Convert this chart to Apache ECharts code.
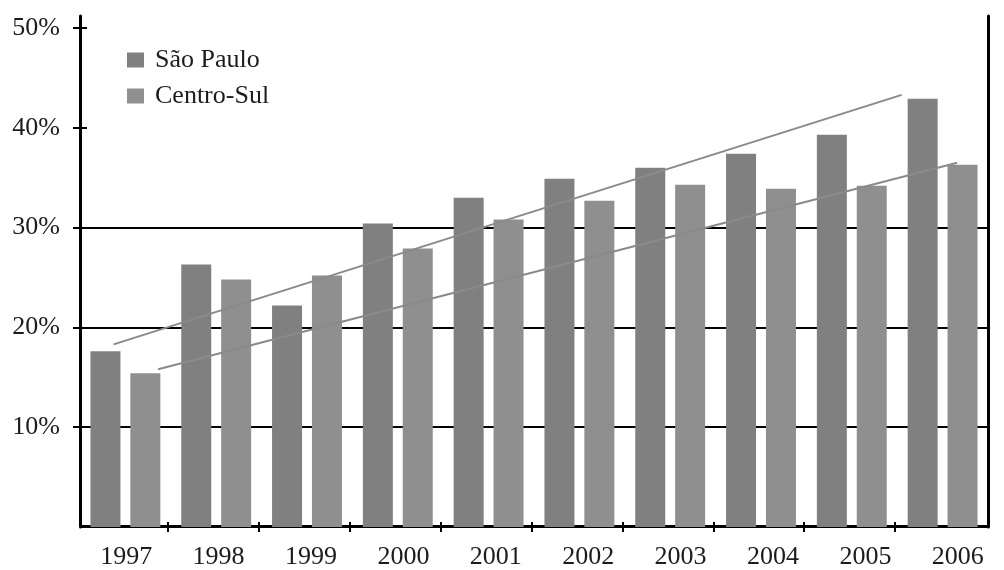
<!DOCTYPE html>
<html>
<head>
<meta charset="utf-8">
<script src="https://cdn.jsdelivr.net/npm/echarts@6/dist/echarts.min.js"></script>
<style>
  html, body { margin: 0; padding: 0; background: #fff; }
  #chart { width: 1004px; height: 570px; }
</style>
</head>
<body>
<div id="chart"></div>
<script>
// Years on the category axis
const years = ['1997', '1998', '1999', '2000', '2001', '2002', '2003', '2004', '2005', '2006'];

// Share (%) per year
const saoPaulo  = [17.6, 26.3, 22.2, 30.4, 33.0, 34.9, 36.0, 37.4, 39.3, 42.9];
const centroSul = [15.4, 24.8, 25.2, 27.9, 30.8, 32.7, 34.3, 33.9, 34.2, 36.3];

// Trend line end points: [year position, %]
const saoPauloTrend  = [[1996.87, 18.3], [2005.55, 43.3]];
const centroSulTrend = [[1997.36, 15.8], [2006.16, 36.5]];

// Value-axis ticks (%)
const yTickMin = 0, yTickMax = 50, yTickStep = 10;
const gridLineMax = 30;   // horizontal rules run up to 30%

const FONT = 'Liberation Serif';
const INK = '#1c1c1c';
const SP_COLOR = '#808080';
const CS_COLOR = '#8f8f8f';
const TREND_COLOR = '#8a8a8a';

const chart = echarts.init(document.getElementById('chart'), null, { renderer: 'canvas' });

const hiddenValue = (gridIndex, extra) => Object.assign({
  type: 'value', gridIndex: gridIndex, show: false, min: 0, max: 1
}, extra || {});

const PX_PER_PCT = 499 / 50;
const plotBottom = 43;

chart.setOption({
  animation: false,
  backgroundColor: '#fff',
  textStyle: { fontFamily: FONT },
  grid: [
    // 0: data area
    { left: 80, right: 16, top: 28, bottom: plotBottom },
    // 1: frame (vertical lines run a little above the top tick)
    { left: 80, right: 16, top: 16, bottom: plotBottom },
    // 2: horizontal rules from 0 to 30%
    { left: 80, right: 16, top: 527 - gridLineMax * PX_PER_PCT, bottom: plotBottom },
    // 3: crossing ticks on the value axis, 10% .. 50%
    { left: 80, right: 16, top: 28, bottom: 570 - (527 - 10 * PX_PER_PCT) },
    // 4: crossing ticks between the year groups
    { left: 168, right: 109, top: 28, bottom: plotBottom },
    // 5: year labels
    { left: 80, width: 939, top: 28, bottom: plotBottom }
  ],
  legend: {
    orient: 'vertical',
    left: 122,
    top: 42,
    itemWidth: 17,
    itemHeight: 15,
    itemGap: 10,
    icon: 'rect',
    data: ['São Paulo', 'Centro-Sul'],
    textStyle: { fontFamily: FONT, fontSize: 26, color: INK, padding: [0, 0, 0, 6] }
  },
  xAxis: [
    { // 0
      type: 'category', gridIndex: 0, data: years, boundaryGap: true,
      offset: -1,
      axisLine: { show: true, onZero: false, lineStyle: { color: '#000', width: 2 } },
      axisTick: { show: false },
      axisLabel: { show: false },
      splitLine: { show: false }
    },
    hiddenValue(1),                       // 1
    hiddenValue(2),                       // 2
    hiddenValue(3),                       // 3
    { // 4: ticks below the baseline
      type: 'value', gridIndex: 4, min: 1, max: 9, interval: 1,
      axisLine: { show: false },
      axisTick: { show: true, length: 5, lineStyle: { color: '#000', width: 2 } },
      axisLabel: { show: false },
      splitLine: { show: false }
    },
    { // 5: ticks above the baseline
      type: 'value', gridIndex: 4, min: 1, max: 9, interval: 1, position: 'bottom',
      axisLine: { show: false, onZero: false },
      axisTick: { show: true, inside: true, length: 5, lineStyle: { color: '#000', width: 2 } },
      axisLabel: { show: false },
      splitLine: { show: false }
    },
    { // 6: year labels
      type: 'category', gridIndex: 5, data: years, boundaryGap: true,
      axisLine: { show: false },
      axisTick: { show: false },
      axisLabel: { show: true, margin: 17, fontFamily: FONT, fontSize: 26, color: INK, interval: 0 },
      splitLine: { show: false }
    },
    // 7: year scale for the trend lines
    { type: 'value', gridIndex: 0, show: false, min: 1996.5, max: 2006.5 }
  ],
  yAxis: [
    { // 0: data scale with % labels (no label at the origin)
      type: 'value', gridIndex: 0, min: yTickMin, max: yTickMax, interval: yTickStep,
      axisLine: { show: false },
      axisTick: { show: false },
      axisLabel: {
        show: true, margin: 20, fontFamily: FONT, fontSize: 26, color: INK,
        formatter: (v) => (v === 0 ? '' : v + '%')
      },
      splitLine: { show: false }
    },
    { // 1: left frame line
      type: 'value', gridIndex: 1, min: 0, max: 1, position: 'left',
      axisLine: { show: true, lineStyle: { color: '#000', width: 3 } },
      axisTick: { show: false }, axisLabel: { show: false }, splitLine: { show: false }
    },
    { // 2: right frame line
      type: 'value', gridIndex: 1, min: 0, max: 1, position: 'right',
      axisLine: { show: true, lineStyle: { color: '#000', width: 3 } },
      axisTick: { show: false }, axisLabel: { show: false }, splitLine: { show: false }
    },
    { // 3: horizontal rules
      type: 'value', gridIndex: 2, min: 0, max: gridLineMax, interval: yTickStep,
      axisLine: { show: false }, axisTick: { show: false }, axisLabel: { show: false },
      splitLine: { show: true, lineStyle: { color: '#000', width: 2 } }
    },
    { // 4: ticks left of the axis
      type: 'value', gridIndex: 3, min: 10, max: yTickMax, interval: yTickStep,
      axisLine: { show: false },
      axisTick: { show: true, length: 7, lineStyle: { color: '#000', width: 2 } },
      axisLabel: { show: false }, splitLine: { show: false }
    },
    { // 5: ticks right of the axis
      type: 'value', gridIndex: 3, min: 10, max: yTickMax, interval: yTickStep, position: 'left',
      axisLine: { show: false, onZero: false },
      axisTick: { show: true, inside: true, length: 7, lineStyle: { color: '#000', width: 2 } },
      axisLabel: { show: false }, splitLine: { show: false }
    },
    hiddenValue(4),   // 6
    hiddenValue(5)    // 7
  ],
  series: [
    {
      name: 'São Paulo', type: 'bar', xAxisIndex: 0, yAxisIndex: 0,
      data: saoPaulo, barWidth: 30, barGap: '33%',
      itemStyle: { color: SP_COLOR }
    },
    {
      name: 'Centro-Sul', type: 'bar', xAxisIndex: 0, yAxisIndex: 0,
      data: centroSul, barWidth: 30, barGap: '33%',
      itemStyle: { color: CS_COLOR }
    },
    {
      name: 'Tendência São Paulo', type: 'line', xAxisIndex: 7, yAxisIndex: 0,
      data: saoPauloTrend, symbol: 'none', z: 5, silent: true,
      lineStyle: { color: TREND_COLOR, width: 2 }
    },
    {
      name: 'Tendência Centro-Sul', type: 'line', xAxisIndex: 7, yAxisIndex: 0,
      data: centroSulTrend, symbol: 'none', z: 5, silent: true,
      lineStyle: { color: TREND_COLOR, width: 2 }
    }
  ]
});
</script>
</body>
</html>
